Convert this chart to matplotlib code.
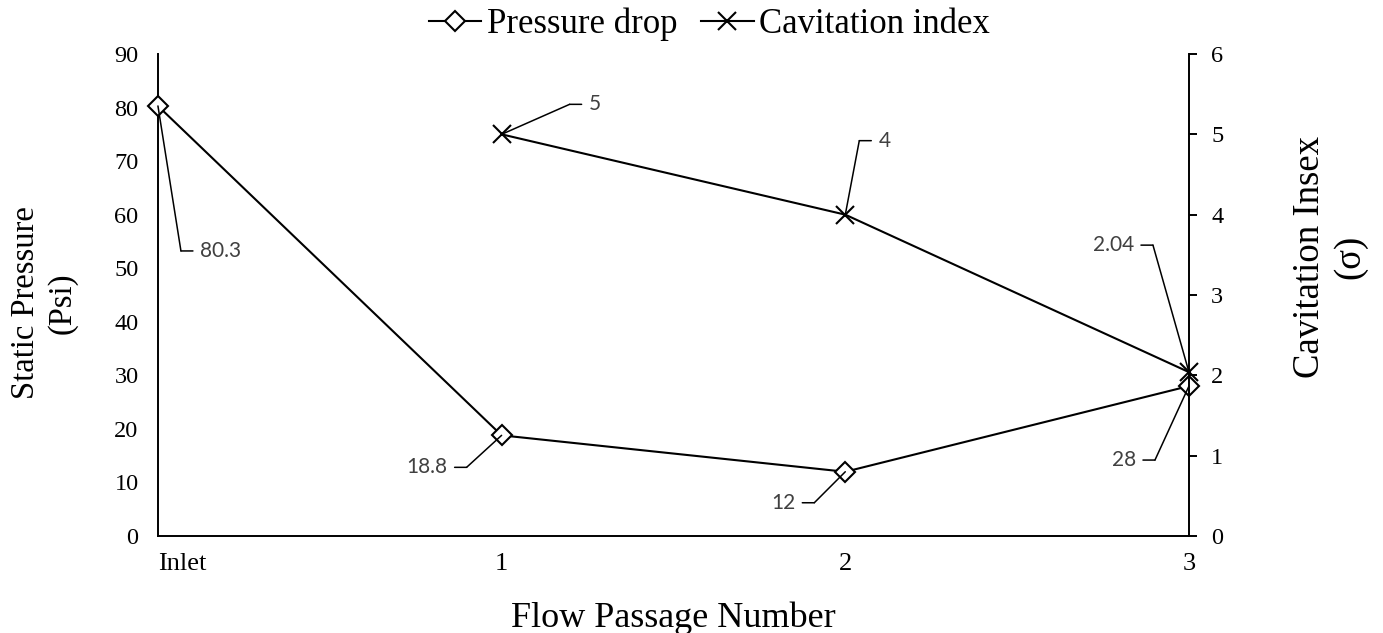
import matplotlib.pyplot as plt
from matplotlib.transforms import offset_copy

plt.rcParams['font.family'] = 'Liberation Serif'

stations = ['Inlet', '1', '2', '3']
pressure = [80.3, 18.8, 12, 28]
cav_stations = [1, 2, 3]
cav_index = [5, 4, 2.04]

# leader elbows in pixels from each point, and which way the stub runs
p_leaders = [(23, -145, 1), (-35, -32, -1), (-31, -31, -1), (-34, -74, -1)]
c_leaders = [(68, 30, 1), (14, 74, 1), (-36, 127, -1)]

fig = plt.figure(figsize=(13.83, 6.33), dpi=100)
ax = fig.add_axes([0.1142, 0.1532, 0.7455, 0.7615])
ax2 = ax.twinx()

ax.plot(range(len(stations)), pressure, '-', color='black', lw=1.5,
        marker='D', ms=10, mfc='white', mec='black', mew=1.5, clip_on=False,
        label='Pressure drop', zorder=3)
ax2.plot(cav_stations, cav_index, '-', color='black', lw=1.5,
         marker='x', ms=13, mew=1.5, clip_on=False,
         label='Cavitation index', zorder=3)

ax.set_xlim(0, 3)
ax.set_ylim(0, 90)
ax2.set_ylim(0, 6)
ax.set_yticks(range(0, 91, 10))
ax2.set_yticks(range(0, 7))
ax.set_xticks(range(len(stations)))
ax.set_xticklabels(stations)
ax.get_xticklabels()[0].set_ha('left')

for a in (ax, ax2):
    a.spines['top'].set_visible(False)
    for s in ('left', 'right', 'bottom'):
        a.spines[s].set_linewidth(1.4)
ax.spines['right'].set_visible(False)
ax2.spines['left'].set_visible(False)
ax2.spines['bottom'].set_visible(False)

ax.tick_params(axis='y', length=0, pad=14, labelsize=17.5)
ax.tick_params(axis='x', length=0, pad=12, labelsize=19)
ax2.tick_params(axis='y', length=6, width=1.4, direction='out', pad=10, labelsize=17.5)

ax.set_xlabel('Flow Passage Number', fontsize=26, labelpad=19)
fig.text(44 / 1383, 1 - 303 / 633, 'Static Pressure\n(Psi)', fontsize=23.5,
         rotation=90, ha='center', va='center', linespacing=1.28)
fig.text(1330 / 1383, 1 - 257 / 633, 'Cavitation Insex\n(σ)', fontsize=26.5,
         rotation=90, ha='center', va='center', linespacing=1.2)


def value_label(a, x, y, text, dx, dy, side):
    kw = dict(arrowstyle='-', color='black', lw=1.1, shrinkA=0, shrinkB=0)
    elbow = offset_copy(a.transData, fig=fig, x=dx, y=dy, units='dots')
    a.annotate('', xy=(x, y), xytext=(dx, dy), textcoords='offset pixels',
               arrowprops=kw, annotation_clip=False)
    a.annotate('', xy=(x, y), xycoords=elbow, xytext=(12 * side, 0),
               textcoords='offset pixels', arrowprops=kw, annotation_clip=False)
    a.annotate(text, xy=(x, y), xycoords=elbow, xytext=(19 * side, 0),
               textcoords='offset pixels', ha='left' if side > 0 else 'right',
               va='center', fontsize=15, family='Lato', color='#404040',
               annotation_clip=False)


for i, v in enumerate(pressure):
    dx, dy, side = p_leaders[i]
    value_label(ax, i, v, f'{v:g}', dx, dy, side)
for x, v, (dx, dy, side) in zip(cav_stations, cav_index, c_leaders):
    value_label(ax2, x, v, f'{v:g}', dx, dy, side)

h1, l1 = ax.get_legend_handles_labels()
h2, l2 = ax2.get_legend_handles_labels()
fig.legend(h1 + h2, l1 + l2, loc='center', bbox_to_anchor=(0.513, 0.961),
           ncol=2, frameon=False, fontsize=25, handlelength=1.5,
           handletextpad=0.15, columnspacing=0.7, borderpad=0)

plt.savefig('out.png', dpi=100)
